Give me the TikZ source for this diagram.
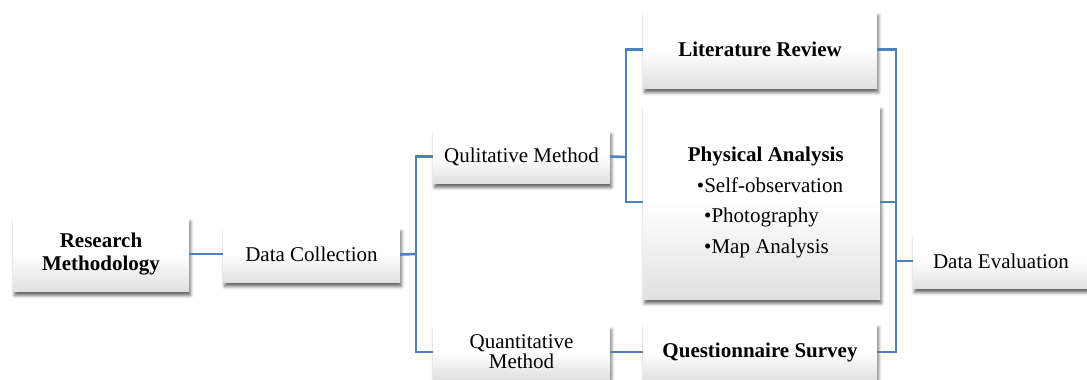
\documentclass[tikz,border=0pt]{standalone}
\usepackage{fontspec}
\setmainfont{Liberation Serif}
\usetikzlibrary{shadows.blur}
\definecolor{conn}{HTML}{4F81BD}
\tikzset{
  box/.style={rectangle, draw=none, top color=white, bottom color=black!12, middle color=white,
    blur shadow={shadow xshift=1.5pt, shadow yshift=-4.5pt, shadow blur radius=3pt, shadow opacity=60},
    inner sep=0pt, align=center, font=\fontsize{21}{23}\selectfont},
  link/.style={draw=conn, line width=2.6pt}
}
\begin{document}
\begin{tikzpicture}[x=1pt,y=-1pt]
\useasboundingbox (0,0) rectangle (1087,380);
\node[box, minimum width=176, minimum height=74] (rm) at (101,254) {\textbf{Research}\\\textbf{Methodology}};
\node[box, minimum width=177, minimum height=55] (dc) at (311.5,254.5) {Data Collection};
\node[box, minimum width=177, minimum height=53] (qm) at (521.5,156.5) {Qulitative Method};
\node[box, minimum width=177, minimum height=54, font=\fontsize{21}{20}\selectfont] (qn) at (521.5,352) {Quantitative\\Method};
\node[box, minimum width=234, minimum height=77] (lr) at (760,49.5) {\textbf{Literature Review}};
\node[box, minimum width=237, minimum height=194] (pa) at (761.5,202) {};
\node[anchor=west, inner sep=0pt, align=left, font=\fontsize{21}{30.5}\selectfont] (patext) at (687.7,202.5)
  {\textbf{Physical Analysis}\\\hspace*{9pt}•Self-observation\\\hspace*{16.3pt}•Photography\\\hspace*{16.3pt}•Map Analysis};
\node[box, minimum width=234, minimum height=58] (qs) at (760,352) {\textbf{Questionnaire Survey}};
\node[box, minimum width=176, minimum height=54] (de) at (1001,261) {Data Evaluation};
\coordinate (b1) at (416,254);
\coordinate (b2) at (626,157);
\coordinate (b3) at (896,261);
\draw[link] (rm.east) -- (rm.east -| dc.west);
\draw[link] (dc.east) -- (b1);
\draw[link] (qm.west) -- (qm.west -| b1) -- (qn.west -| b1) -- (qn.west);
\draw[link] (qm.east) -- (b2);
\draw[link] (lr.west) -- (lr.west -| b2) -- (pa.west -| b2) -- (pa.west);
\draw[link] (qn.east) -- (qs.west);
\draw[link] (lr.east) -- (lr.east -| b3) -- (qs.east -| b3) -- (qs.east);
\draw[link] (pa.east) -- (pa.east -| b3);
\draw[link] (b3) -- (de.west);
\end{tikzpicture}
\end{document}
